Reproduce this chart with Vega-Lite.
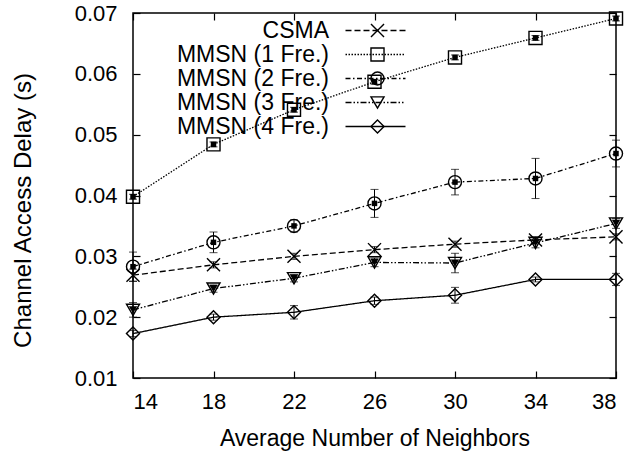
{
  "$schema": "https://vega.github.io/schema/vega-lite/v6.json",
  "width": 483,
  "height": 365,
  "autosize": {"type": "none"},
  "padding": {"left": 133, "top": 13, "right": 17, "bottom": 76},
  "background": "white",
  "config": {
    "view": {"stroke": "black", "strokeWidth": 1.5},
    "font": "Liberation Sans",
    "axis": {
      "grid": false,
      "domain": false,
      "tickColor": "black",
      "tickWidth": 1.2,
      "tickSize": -7,
      "labelFontSize": 22,
      "labelColor": "black",
      "titleFontSize": 22,
      "titleFontWeight": "normal",
      "titleColor": "black"
    }
  },
  "data": {
    "values": [
      {"x": 14, "y": 0.0269, "lo": 0.0259, "hi": 0.0279, "s": "CSMA"},
      {"x": 18, "y": 0.0286, "lo": 0.0281, "hi": 0.0291, "s": "CSMA"},
      {"x": 22, "y": 0.0300, "lo": 0.0295, "hi": 0.0305, "s": "CSMA"},
      {"x": 26, "y": 0.0311, "lo": 0.0306, "hi": 0.0316, "s": "CSMA"},
      {"x": 30, "y": 0.0320, "lo": 0.0315, "hi": 0.0325, "s": "CSMA"},
      {"x": 34, "y": 0.0327, "lo": 0.0322, "hi": 0.0332, "s": "CSMA"},
      {"x": 38, "y": 0.0332, "lo": 0.0327, "hi": 0.0337, "s": "CSMA"},
      {"x": 14, "y": 0.0398, "lo": 0.0394, "hi": 0.0402, "s": "MMSN (1 Fre.)"},
      {"x": 18, "y": 0.0484, "lo": 0.0480, "hi": 0.0488, "s": "MMSN (1 Fre.)"},
      {"x": 22, "y": 0.0541, "lo": 0.0537, "hi": 0.0545, "s": "MMSN (1 Fre.)"},
      {"x": 26, "y": 0.0587, "lo": 0.0583, "hi": 0.0591, "s": "MMSN (1 Fre.)"},
      {"x": 30, "y": 0.0627, "lo": 0.0623, "hi": 0.0631, "s": "MMSN (1 Fre.)"},
      {"x": 34, "y": 0.0659, "lo": 0.0655, "hi": 0.0663, "s": "MMSN (1 Fre.)"},
      {"x": 38, "y": 0.0691, "lo": 0.0687, "hi": 0.0695, "s": "MMSN (1 Fre.)"},
      {"x": 14, "y": 0.0283, "lo": 0.0259, "hi": 0.0307, "s": "MMSN (2 Fre.)"},
      {"x": 18, "y": 0.0323, "lo": 0.0306, "hi": 0.0340, "s": "MMSN (2 Fre.)"},
      {"x": 22, "y": 0.0350, "lo": 0.0340, "hi": 0.0360, "s": "MMSN (2 Fre.)"},
      {"x": 26, "y": 0.0387, "lo": 0.0364, "hi": 0.0410, "s": "MMSN (2 Fre.)"},
      {"x": 30, "y": 0.0422, "lo": 0.0401, "hi": 0.0443, "s": "MMSN (2 Fre.)"},
      {"x": 34, "y": 0.0428, "lo": 0.0395, "hi": 0.0461, "s": "MMSN (2 Fre.)"},
      {"x": 38, "y": 0.0469, "lo": 0.0447, "hi": 0.0491, "s": "MMSN (2 Fre.)"},
      {"x": 14, "y": 0.0212, "lo": 0.0200, "hi": 0.0224, "s": "MMSN (3 Fre.)"},
      {"x": 18, "y": 0.0247, "lo": 0.0241, "hi": 0.0253, "s": "MMSN (3 Fre.)"},
      {"x": 22, "y": 0.0264, "lo": 0.0258, "hi": 0.0270, "s": "MMSN (3 Fre.)"},
      {"x": 26, "y": 0.0290, "lo": 0.0283, "hi": 0.0297, "s": "MMSN (3 Fre.)"},
      {"x": 30, "y": 0.0289, "lo": 0.0273, "hi": 0.0305, "s": "MMSN (3 Fre.)"},
      {"x": 34, "y": 0.0322, "lo": 0.0314, "hi": 0.0330, "s": "MMSN (3 Fre.)"},
      {"x": 38, "y": 0.0354, "lo": 0.0346, "hi": 0.0362, "s": "MMSN (3 Fre.)"},
      {"x": 14, "y": 0.0173, "lo": 0.0168, "hi": 0.0178, "s": "MMSN (4 Fre.)"},
      {"x": 18, "y": 0.0200, "lo": 0.0195, "hi": 0.0205, "s": "MMSN (4 Fre.)"},
      {"x": 22, "y": 0.0208, "lo": 0.0197, "hi": 0.0219, "s": "MMSN (4 Fre.)"},
      {"x": 26, "y": 0.0227, "lo": 0.0221, "hi": 0.0233, "s": "MMSN (4 Fre.)"},
      {"x": 30, "y": 0.0236, "lo": 0.0223, "hi": 0.0249, "s": "MMSN (4 Fre.)"},
      {"x": 34, "y": 0.0262, "lo": 0.0258, "hi": 0.0266, "s": "MMSN (4 Fre.)"},
      {"x": 38, "y": 0.0262, "lo": 0.0252, "hi": 0.0272, "s": "MMSN (4 Fre.)"}
    ]
  },
  "resolve": {"axis": {"x": "independent", "y": "independent"}},
  "layer": [
    {
      "mark": {"type": "line", "color": "black", "strokeWidth": 1.3},
      "encoding": {
        "x": {"field": "x", "type": "quantitative", "scale": {"domain": [14, 38], "nice": false, "zero": false},
              "axis": {"orient": "bottom", "values": [14, 18, 22, 26, 30, 34, 38], "title": "Average Number of Neighbors", "titleFontSize": 23, "labelPadding": 20, "titlePadding": 15}},
        "y": {"field": "y", "type": "quantitative", "scale": {"domain": [0.01, 0.07], "nice": false, "zero": false},
              "axis": {"orient": "left", "values": [0.01, 0.02, 0.03, 0.04, 0.05, 0.06, 0.07], "format": ".2f", "title": "Channel Access Delay (s)", "titleFontSize": 24, "labelPadding": 23, "titlePadding": 39, "titleY": 197}},
        "detail": {"field": "s"},
        "strokeDash": {
          "field": "s", "type": "nominal",
          "scale": {
            "domain": ["CSMA", "MMSN (1 Fre.)", "MMSN (2 Fre.)", "MMSN (3 Fre.)", "MMSN (4 Fre.)"],
            "range": [[6, 3], [1.5, 1.5], [5, 2.5, 1.5, 2.5], [6, 2, 1.5, 2, 1.5, 2], [1, 0]]
          },
          "legend": {
            "orient": "none", "legendX": 231, "legendY": 6, "title": null,
            "symbolType": "M-4,0L4,0", "symbolSize": 225, "symbolStrokeColor": "black", "symbolStrokeWidth": 1.3,
            "labelAlign": "right", "labelOffset": -58, "labelFontSize": 23, "labelColor": "black", "labelLimit": 300,
            "padding": 0, "rowPadding": 0
          }
        }
      }
    },
    {
      "mark": {"type": "rule", "color": "black", "strokeWidth": 1},
      "encoding": {
        "x": {"field": "x", "type": "quantitative", "axis": null},
        "y": {"field": "lo", "type": "quantitative", "axis": null},
        "y2": {"field": "hi"}
      }
    },
    {
      "mark": {"type": "tick", "orient": "horizontal", "color": "black", "size": 8, "thickness": 1},
      "encoding": {
        "x": {"field": "x", "type": "quantitative", "axis": null},
        "y": {"field": "lo", "type": "quantitative", "axis": null}
      }
    },
    {
      "mark": {"type": "tick", "orient": "horizontal", "color": "black", "size": 8, "thickness": 1},
      "encoding": {
        "x": {"field": "x", "type": "quantitative", "axis": null},
        "y": {"field": "hi", "type": "quantitative", "axis": null}
      }
    },
    {
      "mark": {"type": "point", "filled": false, "color": "black", "strokeWidth": 1.4, "size": 170, "opacity": 1},
      "encoding": {
        "x": {"field": "x", "type": "quantitative", "axis": null},
        "y": {"field": "y", "type": "quantitative", "axis": null},
        "shape": {
          "field": "s", "type": "nominal",
          "scale": {"range": ["M-1,-1L1,1M1,-1L-1,1", "square", "circle", "triangle-down", "diamond"]},
          "legend": {
            "orient": "none", "legendX": 233, "legendY": 6, "title": null,
            "symbolStrokeColor": "black", "symbolStrokeWidth": 1.4, "symbolSize": 170, "symbolFillColor": "transparent",
            "labelOpacity": 0, "labelFontSize": 23, "labelLimit": 300,
            "padding": 0, "rowPadding": 0
          }
        }
      }
    },
    {
      "transform": [{"filter": "datum.s === 'MMSN (1 Fre.)' || datum.s === 'MMSN (2 Fre.)'"}],
      "mark": {"type": "square", "color": "black", "size": 30, "opacity": 1},
      "encoding": {
        "x": {"field": "x", "type": "quantitative", "axis": null},
        "y": {"field": "y", "type": "quantitative", "axis": null}
      }
    },
    {
      "transform": [{"filter": "datum.s === 'MMSN (3 Fre.)'"}],
      "mark": {"type": "point", "shape": "triangle-down", "filled": true, "color": "black", "size": 70, "opacity": 1},
      "encoding": {
        "x": {"field": "x", "type": "quantitative", "axis": null},
        "y": {"field": "y", "type": "quantitative", "axis": null}
      }
    },
    {
      "mark": {"type": "point", "opacity": 0},
      "encoding": {
        "x": {"field": "x", "type": "quantitative", "axis": {"orient": "top", "values": [14, 18, 22, 26, 30, 34, 38], "labels": false, "title": null}},
        "y": {"field": "y", "type": "quantitative", "axis": {"orient": "right", "values": [0.01, 0.02, 0.03, 0.04, 0.05, 0.06, 0.07], "labels": false, "title": null}}
      }
    }
  ]
}
